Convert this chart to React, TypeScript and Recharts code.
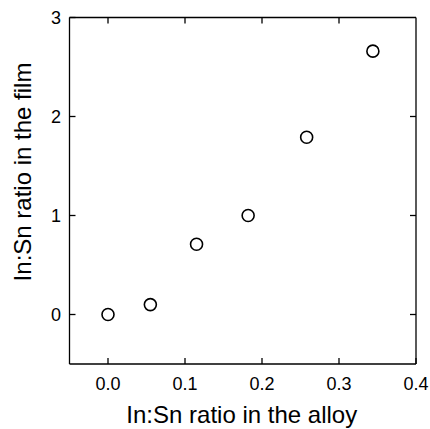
import { ScatterChart, Scatter, XAxis, YAxis } from 'recharts';

const alloyRatio = [0.0, 0.055, 0.115, 0.182, 0.258, 0.344];
const filmRatio = [0.0, 0.1, 0.71, 1.0, 1.79, 2.66];
const xTicks = [0, 0.1, 0.2, 0.3, 0.4];
const yTicks = [0, 1, 2, 3];

const data = alloyRatio.map((x, i) => ({ x, y: filmRatio[i] }));

const font = '"Liberation Sans", Arial, sans-serif';
const tickStyle = { fill: '#000', fontSize: 18, fontFamily: font };
const axisLine = { stroke: '#000', strokeWidth: 1.3 };

const Ring = (props: any) => (
  <circle cx={props.cx} cy={props.cy} r={6} fill="#fff" stroke="#000" strokeWidth={1.6} />
);

const NoLabel = () => <g />;

export default function App() {
  return (
    <div style={{ position: 'absolute', left: 0, top: 0, background: '#fff' }}>
      <ScatterChart width={430} height={429} margin={{ top: 16.5, right: 13, left: 9.5, bottom: 0 }}>
        <XAxis
          dataKey="x"
          type="number"
          domain={[-0.05, 0.4]}
          ticks={xTicks}
          tickFormatter={(v: number) => v.toFixed(1)}
          allowDataOverflow
          height={65}
          tickSize={-6}
          tickMargin={19}
          tick={tickStyle}
          axisLine={axisLine}
          tickLine={axisLine}
          label={{
            content: ({ viewBox }: any) => (
              <text
                x={viewBox.x + viewBox.width / 2 - 1}
                y={414.5}
                dy="0.355em"
                textAnchor="middle"
                fontSize={24}
                fontFamily={font}
                fill="#000"
              >
                In:Sn ratio in the alloy
              </text>
            ),
          }}
        />
        <XAxis
          xAxisId="top"
          dataKey="x"
          orientation="top"
          type="number"
          domain={[-0.05, 0.4]}
          ticks={[0, 0.1, 0.2, 0.3]}
          allowDataOverflow
          height={1}
          tickSize={-6}
          tick={NoLabel}
          axisLine={axisLine}
          tickLine={axisLine}
        />
        <YAxis
          dataKey="y"
          type="number"
          domain={[-0.5, 3]}
          ticks={yTicks}
          allowDataOverflow
          width={60}
          tickSize={-6}
          tickMargin={14.5}
          tick={tickStyle}
          axisLine={axisLine}
          tickLine={axisLine}
          label={{
            content: () => (
              <text
                x={22}
                y={172}
                dy="0.355em"
                transform="rotate(-90, 22, 172)"
                textAnchor="middle"
                fontSize={24}
                fontFamily={font}
                fill="#000"
              >
                In:Sn ratio in the film
              </text>
            ),
          }}
        />
        <YAxis
          yAxisId="right"
          dataKey="y"
          orientation="right"
          type="number"
          domain={[-0.5, 3]}
          ticks={[0, 1, 2]}
          allowDataOverflow
          width={1}
          tickSize={-6}
          tick={NoLabel}
          axisLine={axisLine}
          tickLine={axisLine}
        />
        <Scatter data={data} shape={Ring} isAnimationActive={false} />
        <Scatter data={data} xAxisId="top" yAxisId="right" shape={() => <g />} isAnimationActive={false} />
      </ScatterChart>
    </div>
  );
}
